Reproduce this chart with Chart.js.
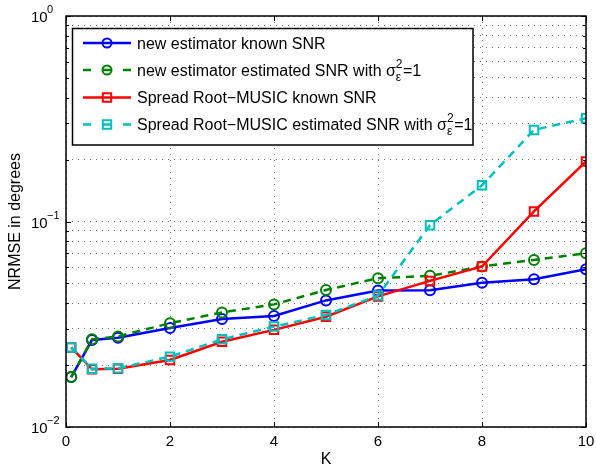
<!DOCTYPE html>
<html>
<head>
<meta charset="utf-8">
<script src="https://cdn.jsdelivr.net/npm/chart.js@4/dist/chart.umd.min.js"></script>
<style>
  html, body { margin: 0; padding: 0; background: #fff; }
  #wrap { width: 596px; height: 469px; }
</style>
</head>
<body>
<div id="wrap"><canvas id="nrmseChart" width="596" height="469"></canvas></div>
<script>
// K values and NRMSE (degrees) for each method
const kValues = [0.1, 0.5, 1, 2, 3, 4, 5, 6, 7, 8, 9, 10];
const newKnown = [0.0175, 0.0265, 0.0272, 0.0303, 0.0335, 0.0347, 0.0413, 0.0462, 0.0463, 0.0503, 0.0523, 0.0585];
const newEstimated = [0.0175, 0.0267, 0.0276, 0.0320, 0.0361, 0.0395, 0.0464, 0.0530, 0.0544, 0.0604, 0.0650, 0.0700];
const rootMusicKnown = [0.0244, 0.0191, 0.0192, 0.0212, 0.0260, 0.0297, 0.0344, 0.0432, 0.0514, 0.0604, 0.112, 0.196];
const rootMusicEstimated = [0.0244, 0.0192, 0.0193, 0.0220, 0.0267, 0.0308, 0.0351, 0.0436, 0.096, 0.150, 0.279, 0.318];

const xTicks = [0, 2, 4, 6, 8, 10];
const yDecades = [0.01, 0.1, 1];
const yExponents = ['\u22122', '\u22121', '0'];

const FONT = '"Liberation Sans", Arial, Helvetica, sans-serif';

const toPoints = (ys) => ys.map((y, i) => ({ x: kValues[i], y: y }));

// log ticks: every 1..9 x decade
const yTickValues = [];
yDecades.forEach((d, i) => {
    if (i === yDecades.length - 1) { yTickValues.push(d); return; }
    for (let m = 1; m <= 9; m++) yTickValues.push(+(d * m).toPrecision(3));
});

const series = [
    { label: 'new estimator known SNR', data: newKnown, color: '#0000ff', dash: [], marker: 'circle' },
    { label: 'new estimator estimated SNR with ', data: newEstimated, color: '#008000', dash: [8, 6], marker: 'circle', sigma: true },
    { label: 'Spread Root\u2212MUSIC known SNR', data: rootMusicKnown, color: '#ff0000', dash: [], marker: 'rect' },
    { label: 'Spread Root\u2212MUSIC estimated SNR with ', data: rootMusicEstimated, color: '#00bfbf', dash: [8, 6], marker: 'rect', sigma: true }
];

const datasets = series.map((s, i) => ({
    label: s.label,
    data: toPoints(s.data),
    borderColor: s.color,
    backgroundColor: s.color,
    borderWidth: 2.5,
    borderDash: s.dash,
    pointStyle: s.marker,
    pointRadius: s.marker === 'circle' ? 5 : 6,
    pointBorderWidth: 2,
    pointBackgroundColor: 'transparent',
    pointBorderColor: s.color,
    tension: 0,
    order: series.length - i   // later series on top
}));

function drawMarker(ctx, style, x, y, color) {
    ctx.save();
    ctx.strokeStyle = color;
    ctx.lineWidth = 2;
    ctx.setLineDash([]);
    ctx.beginPath();
    if (style === 'circle') {
        ctx.arc(x, y, 4.5, 0, Math.PI * 2);
    } else {
        ctx.rect(x - 4.2, y - 4.2, 8.4, 8.4);
    }
    ctx.stroke();
    ctx.restore();
}

const matlabFrame = {
    id: 'matlabFrame',
    afterDraw(chart) {
        const ctx = chart.ctx;
        const area = chart.chartArea;
        const xs = chart.scales.x;
        const ys = chart.scales.y;

        ctx.save();
        // axes box
        ctx.strokeStyle = '#000';
        ctx.lineWidth = 1.5;
        ctx.setLineDash([]);
        ctx.strokeRect(area.left, area.top, area.right - area.left, area.bottom - area.top);

        // inward ticks
        ctx.lineWidth = 1;
        ctx.beginPath();
        xTicks.forEach(v => {
            const px = Math.round(xs.getPixelForValue(v)) + 0.5;
            ctx.moveTo(px, area.bottom); ctx.lineTo(px, area.bottom - 5);
            ctx.moveTo(px, area.top); ctx.lineTo(px, area.top + 5);
        });
        yTickValues.forEach(v => {
            const py = Math.round(ys.getPixelForValue(v)) + 0.5;
            const len = yDecades.includes(v) ? 5 : 3;
            ctx.moveTo(area.left, py); ctx.lineTo(area.left + len, py);
            ctx.moveTo(area.right, py); ctx.lineTo(area.right - len, py);
        });
        ctx.stroke();

        // tick labels
        ctx.fillStyle = '#000';
        ctx.font = '15px ' + FONT;
        ctx.textAlign = 'center';
        ctx.textBaseline = 'middle';
        xTicks.forEach(v => {
            ctx.fillText(String(v), xs.getPixelForValue(v), area.bottom + 14.5);
        });
        yDecades.forEach((v, i) => {
            const py = ys.getPixelForValue(v);
            ctx.font = '15px ' + FONT;
            ctx.textAlign = 'left';
            ctx.textBaseline = 'alphabetic';
            ctx.fillText('10', 31, py + 6);
            ctx.font = '11px ' + FONT;
            ctx.fillText(yExponents[i], 47, py - 3);
        });

        // axis titles
        ctx.font = '16px ' + FONT;
        ctx.textAlign = 'center';
        ctx.textBaseline = 'middle';
        ctx.fillText('K', (area.left + area.right) / 2, area.bottom + 33);
        ctx.save();
        ctx.translate(16, (area.top + area.bottom) / 2);
        ctx.rotate(-Math.PI / 2);
        ctx.fillText('NRMSE in degrees', 0, 0);
        ctx.restore();

        // legend
        const box = { x: 72.5, y: 28.5, w: 400.5, h: 116.5 };
        ctx.fillStyle = '#fff';
        ctx.fillRect(box.x, box.y, box.w, box.h);
        ctx.strokeStyle = '#000';
        ctx.lineWidth = 1.5;
        ctx.strokeRect(box.x, box.y, box.w, box.h);

        const baselines = [48.5, 75.5, 103, 130];
        series.forEach((s, i) => {
            const base = baselines[i];
            const ly = base - 5.5;
            ctx.strokeStyle = s.color;
            ctx.lineWidth = 2.5;
            ctx.setLineDash([]);
            ctx.beginPath();
            if (s.dash.length) {
                ctx.moveTo(83, ly); ctx.lineTo(91, ly);
                ctx.moveTo(102, ly); ctx.lineTo(112, ly);
                ctx.moveTo(123, ly); ctx.lineTo(131, ly);
            } else {
                ctx.moveTo(83, ly); ctx.lineTo(131, ly);
            }
            ctx.stroke();
            drawMarker(ctx, s.marker, 107, ly, s.color);

            ctx.fillStyle = '#000';
            ctx.font = '16px ' + FONT;
            ctx.textAlign = 'left';
            ctx.textBaseline = 'alphabetic';
            let tx = 137;
            ctx.fillText(s.label, tx, base);
            if (s.sigma) {
                tx += ctx.measureText(s.label).width;
                ctx.fillText('\u03c3', tx, base);
                tx += ctx.measureText('\u03c3').width;
                ctx.font = '12px ' + FONT;
                ctx.fillText('2', tx, base - 8);
                ctx.fillText('\u03b5', tx, base + 5);
                tx += Math.max(ctx.measureText('2').width, ctx.measureText('\u03b5').width) + 0.5;
                ctx.font = '16px ' + FONT;
                ctx.fillText('=1', tx, base);
            }
        });
        ctx.restore();
    }
};

new Chart(document.getElementById('nrmseChart'), {
    type: 'line',
    data: { datasets: datasets },
    options: {
        responsive: false,
        animation: false,
        devicePixelRatio: 1,
        layout: { padding: { left: 0, right: 10, top: 16, bottom: 0 } },
        plugins: { legend: { display: false }, tooltip: { enabled: false } },
        scales: {
            x: {
                type: 'linear',
                min: 0,
                max: 10,
                ticks: { display: false, stepSize: 2 },
                afterBuildTicks: (scale) => { scale.ticks = xTicks.map(v => ({ value: v })); },
                afterFit: (scale) => { scale.height = 42; },
                grid: { color: 'rgba(0,0,0,0.55)', lineWidth: 1, drawTicks: false },
                border: { display: false, dash: [1, 5] }
            },
            y: {
                type: 'logarithmic',
                min: 0.01,
                max: 1,
                ticks: { display: false },
                afterBuildTicks: (scale) => { scale.ticks = yTickValues.map(v => ({ value: v })); },
                afterFit: (scale) => { scale.width = 66; },
                grid: { color: 'rgba(0,0,0,0.55)', lineWidth: 1, drawTicks: false },
                border: { display: false, dash: [1, 5] }
            }
        }
    },
    plugins: [matlabFrame]
});
</script>
</body>
</html>
